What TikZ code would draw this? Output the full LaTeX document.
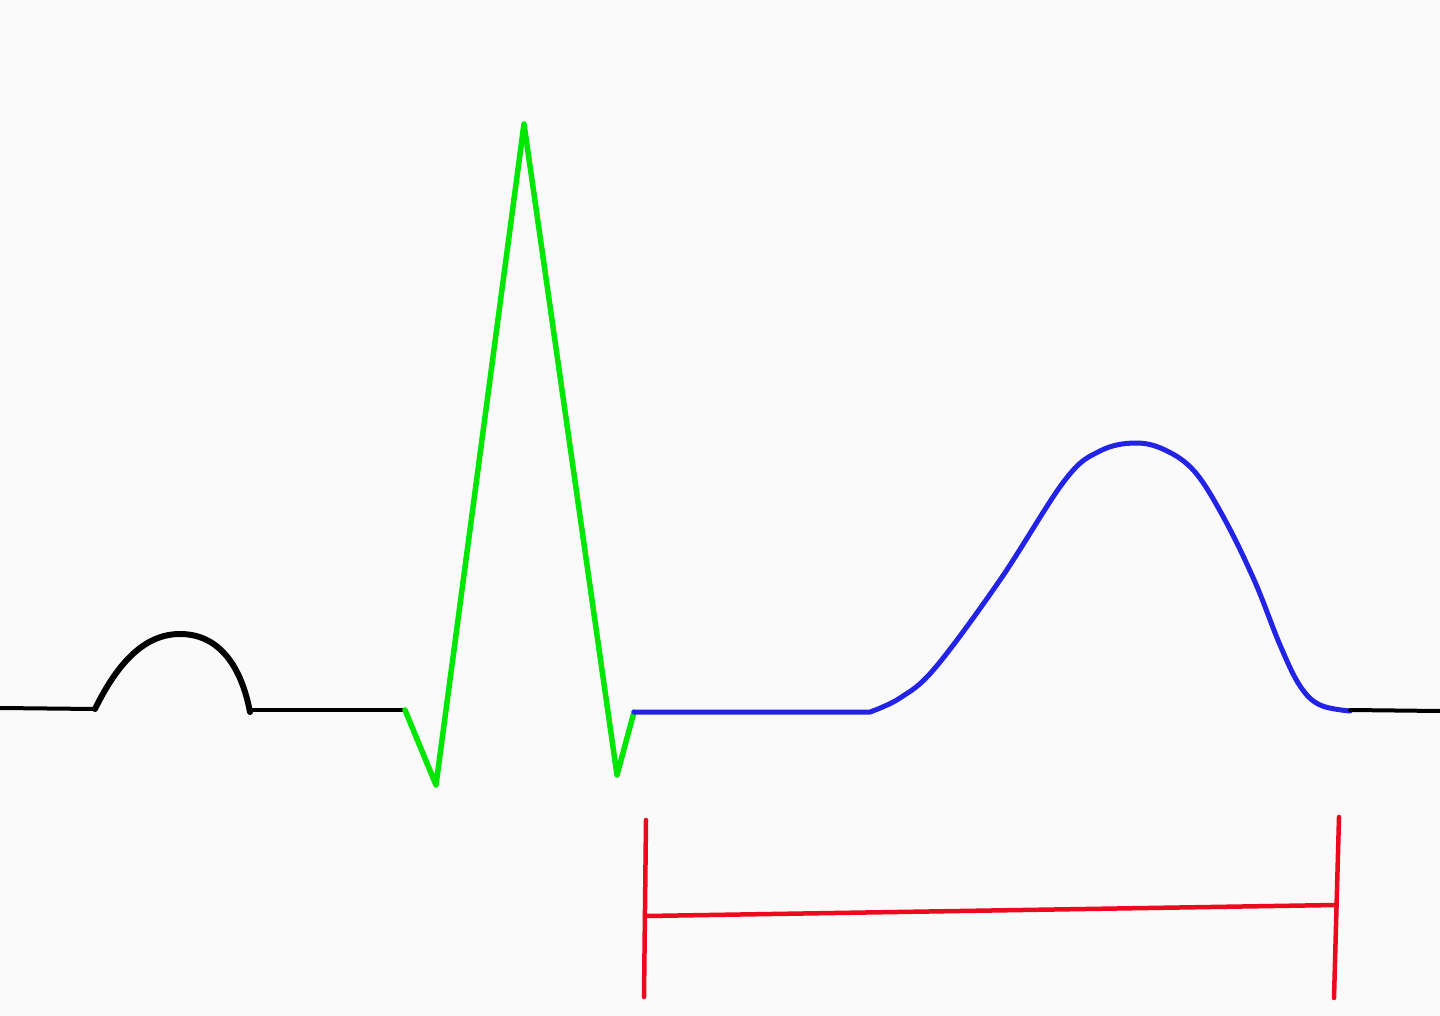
\documentclass[tikz,border=0pt]{standalone}
\definecolor{bgcol}{RGB}{250,250,250}
\definecolor{qrscol}{RGB}{0,230,0}
\definecolor{tcol}{RGB}{35,35,230}
\definecolor{redcol}{RGB}{235,10,30}
\begin{document}
\begin{tikzpicture}[x=1pt,y=-1pt,line join=round,line cap=round,
  baseline/.style={line width=4pt,black},
  pwave/.style={line width=6pt,black},
  qrs/.style={line width=5.5pt,qrscol},
  twave/.style={line width=5pt,tcol},
  interval/.style={line width=4.5pt,redcol}]
\fill[bgcol] (0,0) rectangle (1440,1016);
\useasboundingbox (0,0) rectangle (1440,1016);
% baseline and P wave
\draw[baseline] (0,708) -- (95,709);
\draw[pwave] (95,709) .. controls (118,662) and (145,634) .. (180,634)
  .. controls (215,634) and (240,660) .. (250,712);
\draw[baseline] (250,710) -- (405,710);
% QRS complex
\draw[qrs] (405,710) -- (436,785) -- (524,124) -- (617,775) -- (634,712);
% ST segment and T wave
\draw[twave] (634,712) -- (870,712) plot[smooth,tension=0.6] coordinates {(870,712) (900,698) (935,668) (1000,580) (1065,480) (1100,451) (1135,443) (1165,450) (1195,472) (1225,520) (1255,582) (1280,645) (1300,686) (1320,705) (1350,711)};
\draw[baseline] (1350,710) -- (1440,711);
% QT interval marker
\draw[interval] (646,820) -- (644,997);
\draw[interval] (646,916) -- (1336,905);
\draw[interval] (1339,817) -- (1334,998);
\end{tikzpicture}
\end{document}
